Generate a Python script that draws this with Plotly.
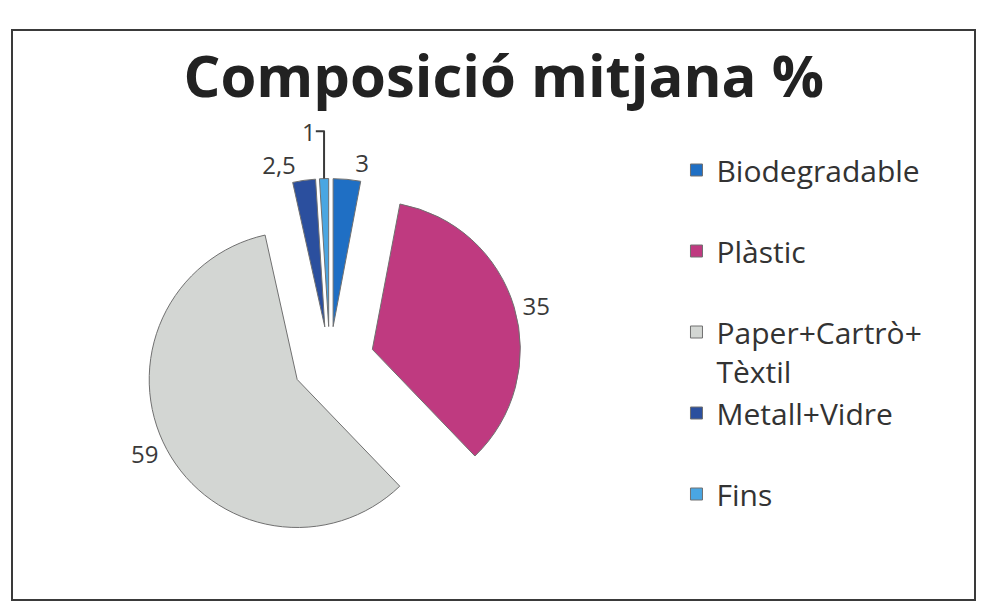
import plotly.graph_objects as go

# data
labels = ["Biodegradable", "Plàstic", "Paper+Cartrò+<br>Tèxtil", "Metall+Vidre", "Fins"]
values = [3, 35, 59, 2.5, 1]
colors = ["#1f6fc4", "#bf3a80", "#d3d6d3", "#2b4f9e", "#4aa6e2"]
pulls = [0.24, 0.3, 0.25, 0.24, 0.24]

FONT = "Open Sans"

fig = go.Figure()
fig.add_trace(
    go.Pie(
        labels=[l if "<br>" in l else l + "<br> " for l in labels],
        values=values,
        sort=False,
        direction="clockwise",
        rotation=0,
        pull=pulls,
        marker=dict(colors=colors, line=dict(color="#707070", width=1)),
        textposition="outside",
        texttemplate="%{value}",
        textfont=dict(family=FONT, size=24, color="#3a3a3a"),
        hoverinfo="skip",
        domain=dict(x=[0.128, 0.532], y=[0.08, 0.755]),
    )
)
fig.update_layout(
    width=972,
    height=599,
    autosize=False,
    separators=",.",
    paper_bgcolor="white",
    plot_bgcolor="white",
    margin=dict(l=4, r=5, t=22, b=7, autoexpand=False),
    title=dict(
        text="<b>Composició mitjana %</b>",
        font=dict(family=FONT, size=58, color="#222222"),
        x=0.51,
        xanchor="center",
        y=0.885,
        yanchor="middle",
    ),
    legend=dict(
        x=0.69,
        y=0.8,
        xanchor="left",
        yanchor="top",
        valign="top",
        font=dict(family=FONT, size=30, color="#333333"),
        bgcolor="rgba(0,0,0,0)",
    ),
    shapes=[
        dict(
            type="rect",
            xref="paper",
            yref="paper",
            x0=0,
            x1=1,
            y0=0,
            y1=1,
            line=dict(color="#3a3a3a", width=2),
        )
    ],
)
fig.write_html("out.html")
